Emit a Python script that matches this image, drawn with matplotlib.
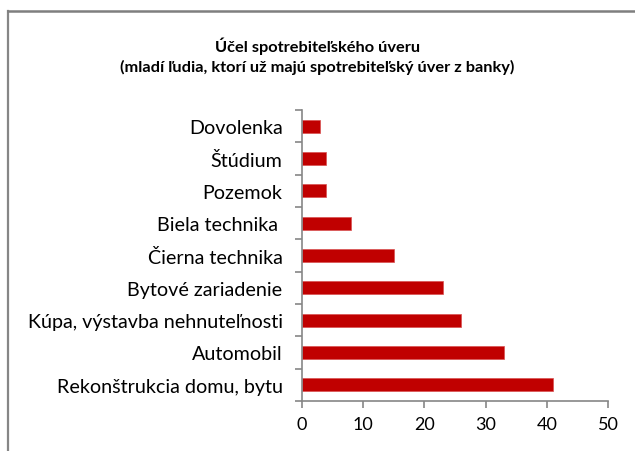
import matplotlib
matplotlib.use("Agg")
import matplotlib.pyplot as plt
from matplotlib.lines import Line2D

# ── dáta ────────────────────────────────────────────────────────────────
categories = [
    "Rekonštrukcia domu, bytu",
    "Automobil",
    "Kúpa, výstavba nehnuteľnosti",
    "Bytové zariadenie",
    "Čierna technika",
    "Biela technika ",
    "Pozemok",
    "Štúdium",
    "Dovolenka",
]
values = [41, 33, 26, 23, 15, 8, 4, 4, 3]
x_ticks = [0, 10, 20, 30, 40, 50]

TITLE = "Účel spotrebiteľského úveru\n(mladí ľudia, ktorí už majú spotrebiteľský úver z banky)"
BAR = "#C00000"
AXC = "#868686"

plt.rcParams["font.family"] = ["Lato", "DejaVu Sans"]

fig = plt.figure(figsize=(6.35, 4.52), dpi=100)
fig.patch.set_facecolor("white")

# rámik grafu (len ľavá a horná strana sú vidno)
W, H = 635, 452
fy = 1 - 12 / H
fx = 8 / W
fig.add_artist(Line2D([fx, fx], [0.0, fy], transform=fig.transFigure,
                      color=AXC, lw=1.6))
fig.add_artist(Line2D([fx, 0.999], [fy, fy], transform=fig.transFigure,
                      color="#7F7F7F", lw=1.8))

ax = fig.add_axes([302 / W, 1 - 402 / H, 306 / W, 291 / H])
ypos = list(range(len(categories)))
ax.barh(ypos, values, height=0.4, color=BAR, edgecolor="#D95050", lw=0.5)

ax.set_xlim(0, 50)
ax.set_ylim(-0.5, len(categories) - 0.5)
ax.set_xticks(x_ticks)
ax.set_xticklabels([str(t) for t in x_ticks], fontsize=13)
ax.set_yticks(ypos)
ax.set_yticklabels(categories, fontsize=14.2)
ax.set_yticks([i - 0.5 for i in range(len(categories) + 1)], minor=True)

ax.tick_params(axis="y", which="major", length=0, pad=14)
ax.tick_params(axis="y", which="minor", length=5, width=1.2, color=AXC, direction="out")
ax.tick_params(axis="x", length=5, width=1.2, color=AXC, direction="out", pad=6)

for s in ["top", "right"]:
    ax.spines[s].set_visible(False)
for s in ["left", "bottom"]:
    ax.spines[s].set_color(AXC)
    ax.spines[s].set_linewidth(1.2)

fig.text(0.5, 1 - 56 / H, TITLE, ha="center", va="center",
         fontsize=11.75, fontweight="bold", linespacing=1.45)

fig.savefig("out.png", dpi=100, facecolor="white")
